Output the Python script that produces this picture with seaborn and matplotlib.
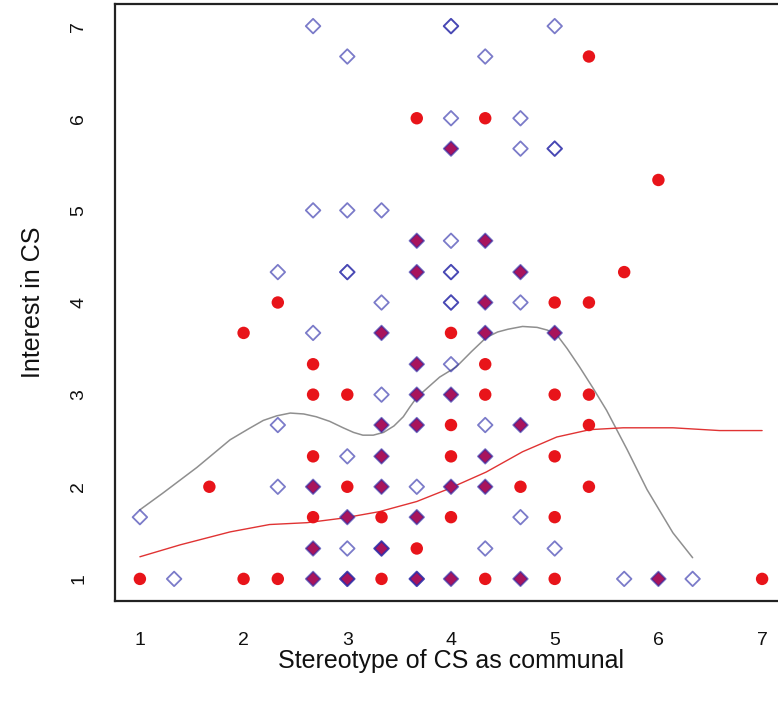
import numpy as np
import pandas as pd
import matplotlib
matplotlib.use("Agg")
import matplotlib.pyplot as plt
import seaborn as sns

# Group A (blue open diamonds); repeated entries are overplotted observations
blue_x = [2.67, 4, 4, 5,
          3, 4.33,
          4, 4.67,
          4, 4.67, 5, 5,
          2.67, 3, 3.33,
          3.67, 4, 4.33,
          2.33, 3, 3, 3.67, 4, 4, 4.67,
          3.33, 4, 4, 4.33, 4.67,
          2.67, 3.33, 4.33, 5,
          3.67, 4,
          3.33, 3.67, 4,
          2.33, 3.33, 3.67, 4.33, 4.67,
          3, 3.33, 4.33,
          2.33, 2.67, 3.33, 3.67, 4, 4.33,
          1, 3, 3.67, 4.67,
          2.67, 3, 3.33, 3.33, 4.33, 5,
          1.33, 2.67, 3, 3, 3.67, 3.67, 4, 4.67, 5.67, 6, 6.33]
blue_y = [7, 7, 7, 7,
          6.67, 6.67,
          6, 6,
          5.67, 5.67, 5.67, 5.67,
          5, 5, 5,
          4.67, 4.67, 4.67,
          4.33, 4.33, 4.33, 4.33, 4.33, 4.33, 4.33,
          4, 4, 4, 4, 4,
          3.67, 3.67, 3.67, 3.67,
          3.33, 3.33,
          3, 3, 3,
          2.67, 2.67, 2.67, 2.67, 2.67,
          2.33, 2.33, 2.33,
          2, 2, 2, 2, 2, 2,
          1.67, 1.67, 1.67, 1.67,
          1.33, 1.33, 1.33, 1.33, 1.33, 1.33,
          1, 1, 1, 1, 1, 1, 1, 1, 1, 1, 1]

# Group B (red filled circles)
red_x = [5.33,
         3.67, 4.33,
         4,
         6,
         3.67, 4.33,
         3.67, 4.67, 5.67,
         2.33, 4.33, 5, 5.33,
         2, 3.33, 4, 4.33, 5,
         2.67, 3.67, 4.33,
         2.67, 3, 3.67, 4, 4.33, 5, 5.33,
         3.33, 3.67, 4, 4.67, 5.33,
         2.67, 3.33, 4, 4.33, 5,
         1.67, 2.67, 3, 3.33, 4, 4.33, 4.67, 5.33,
         2.67, 3, 3.33, 3.67, 4, 5,
         2.67, 3.33, 3.67,
         1, 2, 2.33, 2.67, 3, 3.33, 3.67, 4, 4.33, 4.67, 5, 6, 7]
red_y = [6.67,
         6, 6,
         5.67,
         5.33,
         4.67, 4.67,
         4.33, 4.33, 4.33,
         4, 4, 4, 4,
         3.67, 3.67, 3.67, 3.67, 3.67,
         3.33, 3.33, 3.33,
         3, 3, 3, 3, 3, 3, 3,
         2.67, 2.67, 2.67, 2.67, 2.67,
         2.33, 2.33, 2.33, 2.33, 2.33,
         2, 2, 2, 2, 2, 2, 2, 2,
         1.67, 1.67, 1.67, 1.67, 1.67, 1.67,
         1.33, 1.33, 1.33,
         1, 1, 1, 1, 1, 1, 1, 1, 1, 1, 1, 1, 1]

# Smoothed trend for group A (gray) and group B (red)
gray_fit_x = [1.0, 1.22, 1.55, 1.87, 2.05, 2.19, 2.32, 2.45, 2.58, 2.70, 2.83, 2.96,
              3.06, 3.15, 3.25, 3.35, 3.45, 3.54, 3.60, 3.67, 3.78, 3.89, 4.05,
              4.20, 4.34, 4.45, 4.55, 4.69, 4.83, 4.93, 5.02, 5.12, 5.24, 5.37,
              5.50, 5.70, 5.89, 6.14, 6.33]
gray_fit_y = [1.75, 1.93, 2.21, 2.51, 2.63, 2.72, 2.77, 2.80, 2.79, 2.76, 2.71, 2.64,
              2.59, 2.56, 2.56, 2.59, 2.66, 2.76, 2.86, 2.97, 3.08, 3.19, 3.30,
              3.47, 3.62, 3.68, 3.71, 3.74, 3.73, 3.70, 3.65, 3.50, 3.30, 3.07,
              2.83, 2.40, 1.97, 1.50, 1.23]
red_fit_x = [1.0, 1.39, 1.87, 2.25, 2.61, 2.96, 3.31, 3.67, 3.96, 4.34, 4.69, 5.02,
             5.34, 5.66, 6.14, 6.59, 7.0]
red_fit_y = [1.24, 1.37, 1.51, 1.59, 1.61, 1.66, 1.73, 1.84, 1.97, 2.16, 2.38, 2.54,
             2.62, 2.64, 2.64, 2.61, 2.61]

ticks = [1, 2, 3, 4, 5, 6, 7]

sns.set_theme(style="white")
plt.rcParams["font.family"] = ["Liberation Sans", "DejaVu Sans"]

blue = pd.DataFrame({"x": blue_x, "y": blue_y})
red = pd.DataFrame({"x": red_x, "y": red_y})
blue_keys = set(zip(blue.x.round(2), blue.y.round(2)))
red_keys = set(zip(red.x.round(2), red.y.round(2)))
shared = sorted(blue_keys & red_keys)
both = pd.DataFrame(shared, columns=["x", "y"])
red_only = red[[(a, b) not in blue_keys for a, b in zip(red.x.round(2), red.y.round(2))]]

fig = plt.figure(figsize=(7.78, 7.09), dpi=100)
ax = fig.add_axes([115 / 778, (709 - 601) / 709, (787 - 115) / 778, (601 - 4) / 709])

sns.lineplot(x=gray_fit_x, y=gray_fit_y, ax=ax, color="#8f8f8f", lw=1.1,
             sort=False, estimator=None, zorder=2)
sns.lineplot(x=red_fit_x, y=red_fit_y, ax=ax, color="#e03333", lw=1.0,
             sort=False, estimator=None, zorder=2)

sns.scatterplot(data=red_only, x="x", y="y", ax=ax, marker="o", s=80,
                color="#e8141a", edgecolor="none", zorder=3)
sns.scatterplot(data=both, x="x", y="y", ax=ax, marker="D", s=55,
                color="#a8145c", edgecolor="none", zorder=4)
sns.scatterplot(data=blue, x="x", y="y", ax=ax, marker="D", s=55,
                facecolor="none", edgecolor="#2a2aa8", linewidth=1.3,
                alpha=0.62, zorder=5)

ax.set_xlim(0.76, 7.24)
ax.set_ylim(0.76, 7.24)
ax.set_xticks(ticks)
ax.set_yticks(ticks)
ax.set_xticklabels([str(t) for t in ticks])
ax.set_yticklabels([str(t) for t in ticks], rotation=90, va="center")

for side in ["left", "bottom", "top", "right"]:
    ax.spines[side].set_visible(True)
    ax.spines[side].set_color("#222222")
    ax.spines[side].set_linewidth(1.6)

ax.tick_params(axis="both", which="major", direction="out", length=8, width=1.3,
               color="#222222", labelsize=14, labelcolor="#111111")
ax.tick_params(axis="x", pad=14)
ax.tick_params(axis="y", pad=12)

ax.set_xlabel("Stereotype of CS as communal", fontsize=18, color="#111111")
ax.set_ylabel("Interest in CS", fontsize=18, color="#111111")
ax.xaxis.set_label_coords(0.5, -0.08)
ax.yaxis.set_label_coords(-0.104, 0.5)

fig.savefig("out.png", dpi=100, facecolor="white")
